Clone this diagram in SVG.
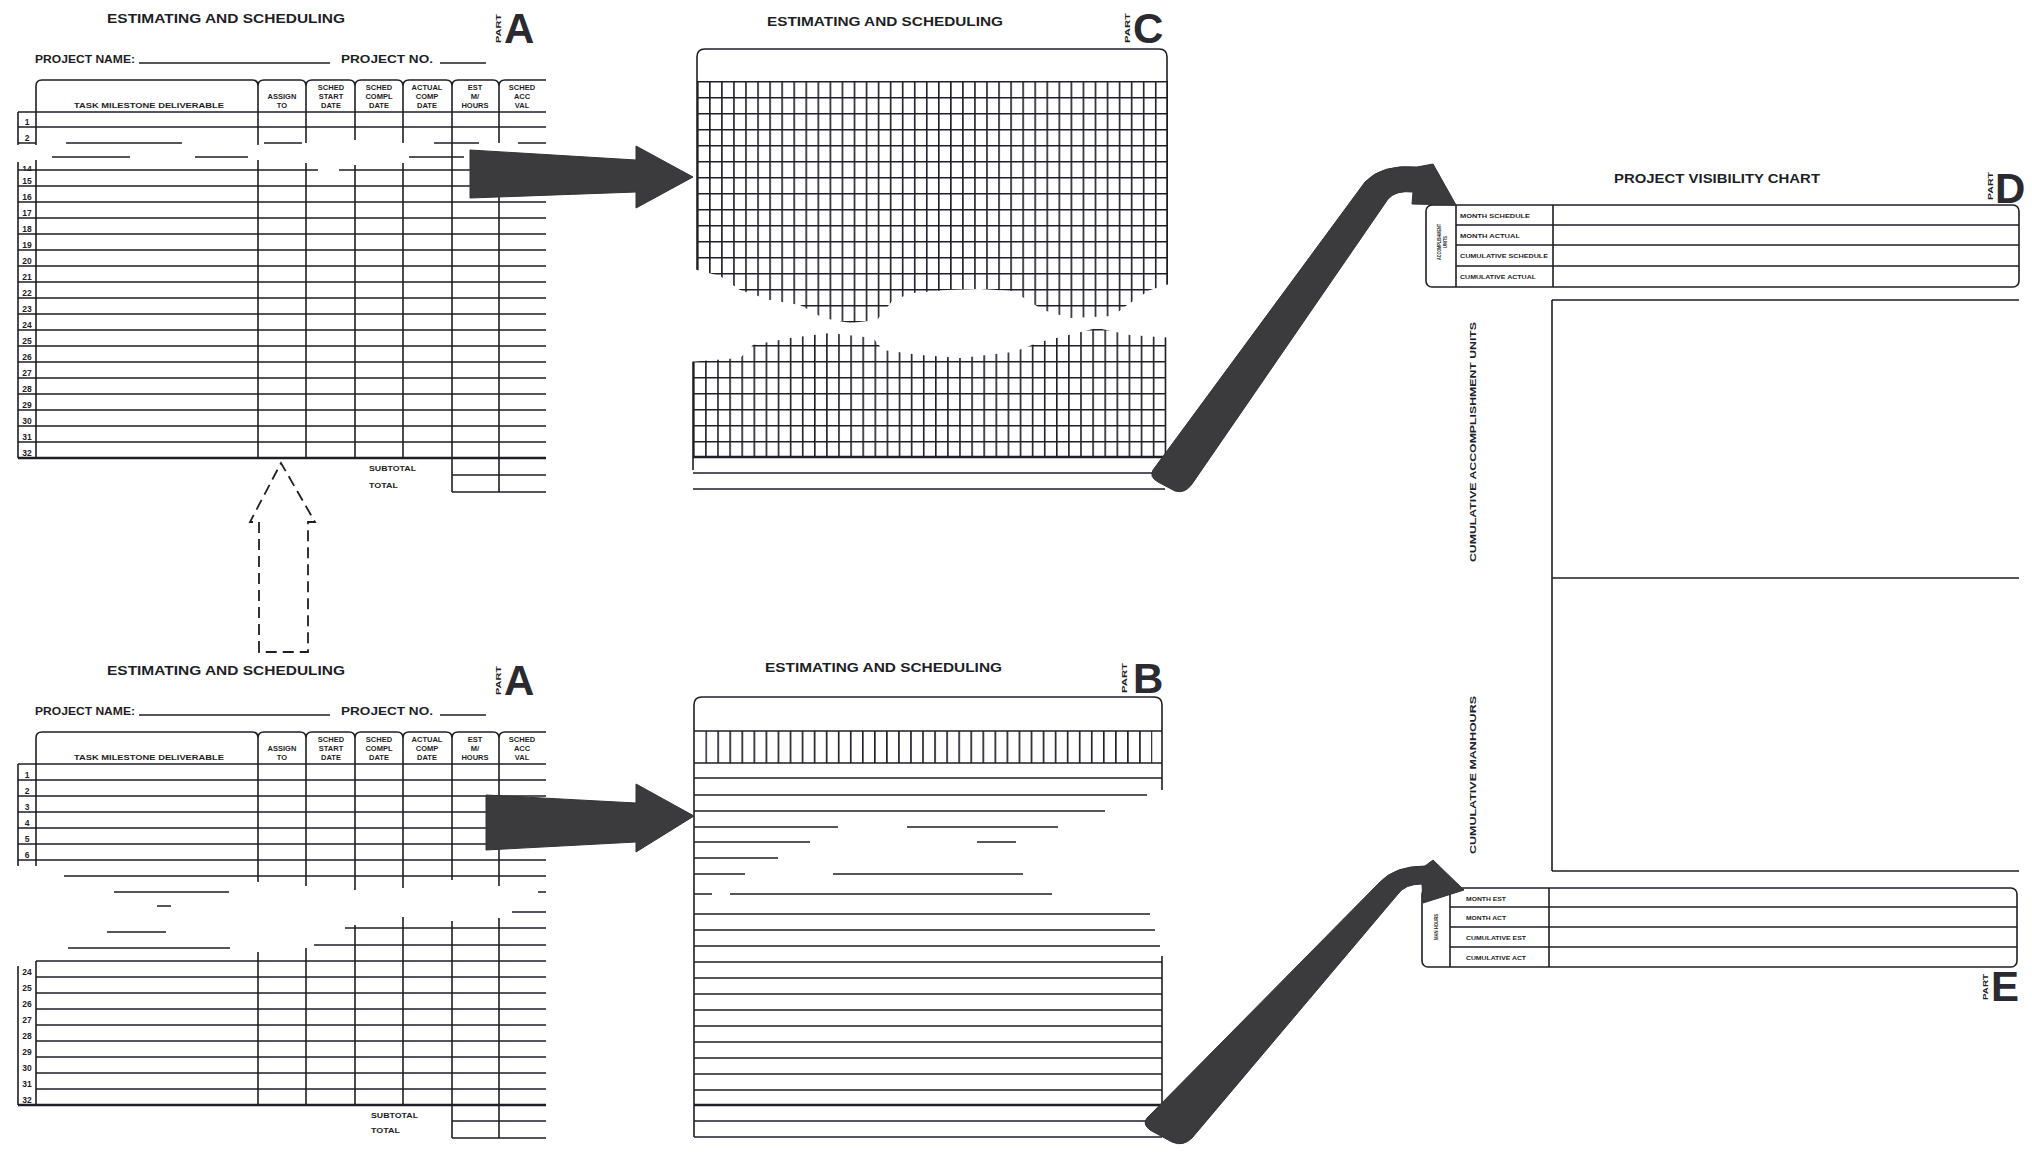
<svg xmlns="http://www.w3.org/2000/svg" xmlns:xlink="http://www.w3.org/1999/xlink" width="2032" height="1157" viewBox="0 0 2032 1157">
<style>
.ln{stroke:#1e1e26;stroke-width:1.6;fill:none;stroke-linecap:butt}
.thk{stroke:#1e1e26;stroke-width:2.6;fill:none}
.t{font-family:"Liberation Sans",Arial,sans-serif;font-weight:bold;fill:#1e1e26}
.big{font-family:"Liberation Sans",Arial,sans-serif;font-weight:bold;fill:#2a2a30;font-size:42px}
.h{font-size:7.5px;text-anchor:middle}
.n{font-size:8.5px;text-anchor:middle}
.sm{font-size:6px}
.arrow{fill:#3b3b3e;stroke:#333336;stroke-width:1}
.dash{fill:none;stroke:#1e1e26;stroke-width:1.8;stroke-dasharray:11 6}
</style>
<defs>
<pattern id="gridU" patternUnits="userSpaceOnUse" x="697" y="81" width="12.05" height="16">
<path d="M0.8,0V16M0,0.8H12.05" stroke="#1e1e26" stroke-width="1.6" fill="none"/>
</pattern>
<pattern id="gridL" patternUnits="userSpaceOnUse" x="693" y="297" width="12.1" height="16">
<path d="M0.8,0V16M0,0.8H12.1" stroke="#1e1e26" stroke-width="1.6" fill="none"/>
</pattern>
<pattern id="ticks" patternUnits="userSpaceOnUse" x="705.3" y="731" width="12.05" height="32">
<path d="M0.8,0V32" stroke="#1e1e26" stroke-width="1.7" fill="none"/>
</pattern>
<clipPath id="clipU">
<path d="M690,40L1175,40L1175,282L1150,290L1127,305L1113,316L1070,318L1043,310L1013,291L980,289L947,290L913,293L893,300L877,320L850,323L823,318L800,305L770,300L740,290L720,276L690,268Z"/>
</clipPath>
<clipPath id="clipL">
<path d="M688,362L740,358L753,345L790,338L830,333L873,338L883,350L920,355L960,358L1013,352L1040,342L1097,328L1130,335L1172,338L1172,470L688,470Z"/>
</clipPath>
<clipPath id="clip14"><rect x="15" y="163" width="25" height="8"/></clipPath>
<g id="hdr">
<text class="t" x="107" y="23" font-size="13" textLength="238" lengthAdjust="spacingAndGlyphs">ESTIMATING AND SCHEDULING</text>
<text class="t" font-size="8" transform="translate(501,43) rotate(-90)" textLength="29" lengthAdjust="spacingAndGlyphs">PART</text>
<text class="big" x="504" y="43">A</text>
<text class="t" x="35" y="63" font-size="10.5" textLength="100" lengthAdjust="spacingAndGlyphs">PROJECT NAME:</text>
<line class="ln" x1="139" y1="63" x2="330" y2="63"/>
<text class="t" x="341" y="63" font-size="10.5" textLength="92" lengthAdjust="spacingAndGlyphs">PROJECT NO.</text>
<line class="ln" x1="440" y1="63" x2="486" y2="63"/>
<path class="ln" d="M36,112V86Q36,80 42,80H252Q258,80 258,86V112M258,112V86Q258,80 264,80H300Q306,80 306,86V112M306,112V86Q306,80 312,80H349Q355,80 355,86V112M355,112V86Q355,80 361,80H397Q403,80 403,86V112M403,112V86Q403,80 409,80H446Q452,80 452,86V112M452,112V86Q452,80 458,80H493Q499,80 499,86V112M499,112V86Q499,80 505,80H546"/>
<text class="t h" x="149" y="108" textLength="150" lengthAdjust="spacingAndGlyphs">TASK MILESTONE DELIVERABLE</text>
<text class="t h" x="282" y="99">ASSIGN</text><text class="t h" x="282" y="108">TO</text>
<text class="t h" x="331" y="90">SCHED</text><text class="t h" x="331" y="99">START</text><text class="t h" x="331" y="108">DATE</text>
<text class="t h" x="379" y="90">SCHED</text><text class="t h" x="379" y="99">COMPL</text><text class="t h" x="379" y="108">DATE</text>
<text class="t h" x="427" y="90">ACTUAL</text><text class="t h" x="427" y="99">COMP</text><text class="t h" x="427" y="108">DATE</text>
<text class="t h" x="475" y="90">EST</text><text class="t h" x="475" y="99">M/</text><text class="t h" x="475" y="108">HOURS</text>
<text class="t h" x="522" y="90">SCHED</text><text class="t h" x="522" y="99">ACC</text><text class="t h" x="522" y="108">VAL</text>
<line class="ln" x1="18" y1="112" x2="546" y2="112" stroke-width="1.9"/>
</g>
</defs>
<rect width="2032" height="1157" fill="#ffffff"/>

<g id="formA-top">
<use xlink:href="#hdr"/>
<path class="ln" d="M36,112V145M36,160V458M18,112V145M18,162V458"/>
<path class="ln" d="M258,112V145M258,160V458M306,112V143M306,163V458M355,112V140M355,165V458M403,112V143M403,163V458M452,112V458M499,112V143M499,168V458"/>
<path class="ln" d="M18,127H546M18,143H36M66,143H182M264,143H302M434,143H479M518,143H546M52,157H130M195,157H248M409,157H464M18,170H318M339,170H546"/>
<path class="ln" d="M18,186H546M18,202H546M18,218H546M18,234H546M18,250H546M18,266H546M18,282H546M18,298H546M18,314H546M18,330H546M18,346H546M18,362H546M18,378H546M18,394H546M18,410H546M18,426H546M18,442H546"/>
<line class="thk" x1="18" y1="458" x2="546" y2="458"/>
<g class="t n">
<text x="27" y="125">1</text><text x="27" y="140.5">2</text>
<text x="27" y="172" clip-path="url(#clip14)">14</text>
<text x="27" y="183.5">15</text><text x="27" y="199.5">16</text><text x="27" y="215.5">17</text><text x="27" y="231.5">18</text><text x="27" y="247.5">19</text><text x="27" y="263.5">20</text><text x="27" y="279.5">21</text><text x="27" y="295.5">22</text><text x="27" y="311.5">23</text><text x="27" y="327.5">24</text><text x="27" y="343.5">25</text><text x="27" y="359.5">26</text><text x="27" y="375.5">27</text><text x="27" y="391.5">28</text><text x="27" y="407.5">29</text><text x="27" y="423.5">30</text><text x="27" y="439.5">31</text><text x="27" y="455.5">32</text>
</g>
<text class="t" x="369" y="471" font-size="7.5" textLength="47" lengthAdjust="spacingAndGlyphs">SUBTOTAL</text>
<text class="t" x="369" y="488" font-size="7.5" textLength="29" lengthAdjust="spacingAndGlyphs">TOTAL</text>
<path class="ln" d="M452,458V492M499,458V492M452,475H546M452,492H546"/>
</g>

<g id="formA-bottom">
<use xlink:href="#hdr" transform="translate(0,652)"/>
<path class="ln" d="M36,764V866M18,764V866"/>
<path class="ln" d="M258,764V882M306,764V886M355,764V890M403,764V888M452,764V880M499,764V886"/>
<path class="ln" d="M18,780H546M18,796H546M18,812H546M18,828H546M18,844H546M18,860H546M64,876H546M114,892H229M538,892H546"/>
<path class="ln" d="M157,906H171M107,932H166M68,948H230M512,912H546M345,928H546M314,945H546"/>
<path class="ln" d="M258,952V1105M306,948V1105M355,925V1105M403,917V1105M452,921V1105M499,918V1105"/>
<path class="ln" d="M36,961H546M36,977H546M36,993H546M36,1009H546M36,1025H546M36,1041H546M36,1057H546M36,1073H546M36,1089H546M36,961V1105M18,966V1105"/>
<line class="thk" x1="18" y1="1105" x2="546" y2="1105"/>
<g class="t n">
<text x="27" y="777.5">1</text><text x="27" y="793.5">2</text><text x="27" y="809.5">3</text><text x="27" y="825.5">4</text><text x="27" y="841.5">5</text><text x="27" y="857.5">6</text>
<text x="27" y="974.5">24</text><text x="27" y="990.5">25</text><text x="27" y="1006.5">26</text><text x="27" y="1022.5">27</text><text x="27" y="1038.5">28</text><text x="27" y="1054.5">29</text><text x="27" y="1070.5">30</text><text x="27" y="1086.5">31</text><text x="27" y="1102.5">32</text>
</g>
<text class="t" x="371" y="1118" font-size="7.5" textLength="47" lengthAdjust="spacingAndGlyphs">SUBTOTAL</text>
<text class="t" x="371" y="1133" font-size="7.5" textLength="29" lengthAdjust="spacingAndGlyphs">TOTAL</text>
<path class="ln" d="M452,1105V1138M499,1105V1138M452,1121H546M452,1138H546"/>
</g>

<g id="partC">
<text class="t" x="767" y="26" font-size="13" textLength="236" lengthAdjust="spacingAndGlyphs">ESTIMATING AND SCHEDULING</text>
<text class="t" font-size="8" transform="translate(1130,43) rotate(-90)" textLength="30" lengthAdjust="spacingAndGlyphs">PART</text>
<text class="big" x="1133" y="43" font-size="40">C</text>
<g clip-path="url(#clipU)">
<path class="ln" d="M697,330V57Q697,49 705,49H1159Q1167,49 1167,57V330"/>
<rect x="697" y="81" width="471" height="250" fill="url(#gridU)"/>
</g>
<g clip-path="url(#clipL)">
<rect x="693" y="320" width="473" height="137" fill="url(#gridL)"/>
<path class="ln" d="M693,320V489M1165.5,320V489"/>
</g>
<line class="thk" x1="693" y1="457" x2="1166" y2="457"/>
<path class="ln" d="M693,473H1163M693,489H1165"/>
</g>

<g id="partB">
<text class="t" x="765" y="672" font-size="13" textLength="237" lengthAdjust="spacingAndGlyphs">ESTIMATING AND SCHEDULING</text>
<text class="t" font-size="8" transform="translate(1127,693) rotate(-90)" textLength="30" lengthAdjust="spacingAndGlyphs">PART</text>
<text class="big" x="1133" y="693" font-size="40">B</text>
<path class="ln" d="M694,1137V705Q694,697 702,697H1154Q1162,697 1162,705V790"/>
<path class="ln" d="M694,731H1162M694,763H1162M694,778H1162"/>
<rect x="705.3" y="731" width="447" height="32" fill="url(#ticks)"/>
<path class="ln" d="M694,795H1147M694,811H1105M694,827H838M907,827H1058M694,842H810M977,842H1016M694,858H778M694,874H745M833,874H1023M694,894H712M730,894H1052"/>
<path class="ln" d="M694,914H1150M694,930H1155M694,946H1160M694,962H1162M694,978H1162M694,994H1162M694,1010H1162M694,1026H1162M694,1042H1162M694,1058H1162M694,1074H1162M694,1090H1162M1162,956V1137"/>
<line class="thk" x1="694" y1="1105" x2="1162" y2="1105"/>
<path class="ln" d="M694,1121H1162M694,1137H1162"/>
</g>

<g id="partD">
<text class="t" x="1614" y="183" font-size="13" textLength="206" lengthAdjust="spacingAndGlyphs">PROJECT VISIBILITY CHART</text>
<text class="t" font-size="8" transform="translate(1993,200) rotate(-90)" textLength="28" lengthAdjust="spacingAndGlyphs">PART</text>
<text class="big" x="1995" y="203" font-size="40">D</text>
<rect class="ln" x="1426" y="205" width="593" height="82" rx="6"/>
<path class="ln" d="M1456,205V287M1553,205V287M1456,225H2019M1456,245H2019M1456,266H2019"/>
<text class="t sm" x="1460" y="218" textLength="70" lengthAdjust="spacingAndGlyphs">MONTH SCHEDULE</text>
<text class="t sm" x="1460" y="238" textLength="60" lengthAdjust="spacingAndGlyphs">MONTH ACTUAL</text>
<text class="t sm" x="1460" y="258" textLength="88" lengthAdjust="spacingAndGlyphs">CUMULATIVE SCHEDULE</text>
<text class="t sm" x="1460" y="279" textLength="76" lengthAdjust="spacingAndGlyphs">CUMULATIVE ACTUAL</text>
<text class="t" font-size="4.5" text-anchor="middle" transform="translate(1441,242) rotate(-90)" textLength="36" lengthAdjust="spacingAndGlyphs">ACCOMPLISHMENT</text>
<text class="t" font-size="4.5" text-anchor="middle" transform="translate(1447,242) rotate(-90)" textLength="12" lengthAdjust="spacingAndGlyphs">UNITS</text>
<path class="ln" d="M1552,300V871M1552,300H2019M1552,578H2019M1552,871H2019"/>
<text class="t" font-size="9.5" text-anchor="middle" transform="translate(1476,442) rotate(-90)" textLength="240" lengthAdjust="spacingAndGlyphs">CUMULATIVE ACCOMPLISHMENT UNITS</text>
<text class="t" font-size="9.5" text-anchor="middle" transform="translate(1476,775) rotate(-90)" textLength="158" lengthAdjust="spacingAndGlyphs">CUMULATIVE MANHOURS</text>
</g>

<g id="partE">
<rect class="ln" x="1422" y="888" width="595" height="79" rx="6"/>
<path class="ln" d="M1450,888V967M1549,888V967M1450,907H2017M1450,927H2017M1450,947H2017"/>
<text class="t sm" x="1466" y="901" textLength="40" lengthAdjust="spacingAndGlyphs">MONTH EST</text>
<text class="t sm" x="1466" y="920" textLength="40" lengthAdjust="spacingAndGlyphs">MONTH ACT</text>
<text class="t sm" x="1466" y="940" textLength="60" lengthAdjust="spacingAndGlyphs">CUMULATIVE EST</text>
<text class="t sm" x="1466" y="960" textLength="60" lengthAdjust="spacingAndGlyphs">CUMULATIVE ACT</text>
<text class="t" font-size="4.5" text-anchor="middle" transform="translate(1438,927) rotate(-90)" textLength="26" lengthAdjust="spacingAndGlyphs">MAN HOURS</text>
<text class="t" font-size="8" transform="translate(1988,1000) rotate(-90)" textLength="26" lengthAdjust="spacingAndGlyphs">PART</text>
<text class="big" x="1991" y="1001" font-size="38">E</text>
</g>

<g id="connectors">
<path class="arrow" d="M470,150L636,160L636,146L693,177L636,208L636,192L470,198Z"/>
<path class="arrow" d="M486,795L636,803L636,784L694,816L636,852L636,842L486,850Z"/>
<path class="dash" d="M259,652L259,522L250,522L281,463L315,522L308,522L308,652Z"/>
<path class="arrow" d="M1153,470L1365,182Q1382,164 1417,167L1433,164L1456,205L1412,204L1413,192Q1396,190 1388,199L1192,484Q1185,494 1175,491L1158,482Q1149,477 1153,470Z"/>
<path class="arrow" d="M1147,1118L1380,882Q1395,866 1425,866L1433,860L1464,890L1423,903L1422,884Q1405,884 1398,894L1192,1138Q1183,1147 1172,1142L1150,1130Q1142,1124 1147,1118Z"/>
</g>
</svg>
